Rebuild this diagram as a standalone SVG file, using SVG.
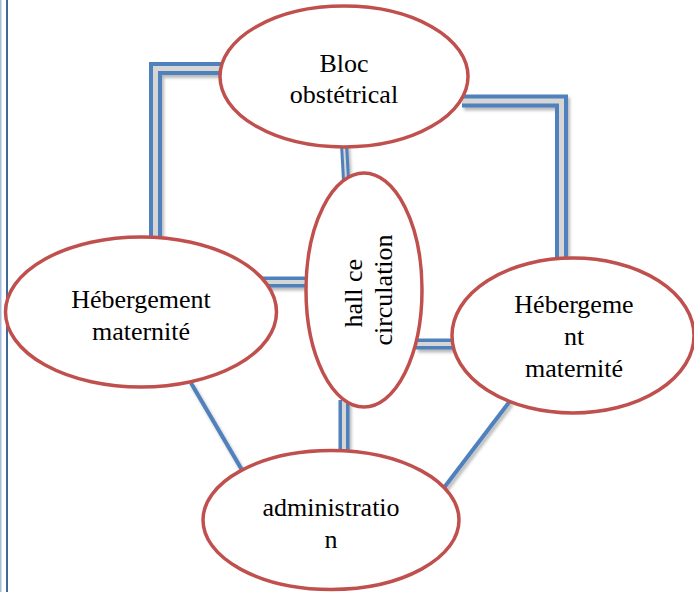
<svg xmlns="http://www.w3.org/2000/svg" width="694" height="592" viewBox="0 0 694 592">
  <defs>
    <filter id="shadow" x="-20%" y="-20%" width="140%" height="140%">
      <feDropShadow dx="2" dy="3" stdDeviation="1.8" flood-color="#808080" flood-opacity="0.55"/>
    </filter>
  </defs>
  <style>
    .node { fill: #FFFFFF; stroke: #C0504D; stroke-width: 3.5; }
    .label { font-size: 26px; fill: #000000; text-anchor: middle; }
    .dbl-outer { fill: none; stroke: #4F81BD; stroke-width: 13; stroke-linejoin: miter; }
    .dbl-inner { fill: none; stroke: #D6D6D6; stroke-width: 5; stroke-linejoin: miter; }
    .mid-outer { fill: none; stroke: #4F81BD; stroke-width: 11; }
    .mid-inner { fill: none; stroke: #D6D6D6; stroke-width: 4; }
    .thin-outer { fill: none; stroke: #4F81BD; stroke-width: 8; }
    .thin-inner { fill: none; stroke: #D6D6D6; stroke-width: 2; }
    .single { fill: none; stroke: #4F81BD; stroke-width: 4; }
  </style>

  <!-- page border lines on the left -->
  <line x1="0.75" y1="0" x2="0.75" y2="592" stroke="#A6BEDC" stroke-width="1.5"/>
  <line x1="7" y1="0" x2="7" y2="592" stroke="#41689C" stroke-width="2"/>

  <!-- connectors -->
  <g id="connectors">
    <g filter="url(#shadow)">
      <path class="dbl-outer" d="M 226 68.5 H 155.5 V 244"/>
      <path class="dbl-inner" d="M 226 68.5 H 155.5 V 244"/>
      <path class="dbl-outer" d="M 462 101 H 561.5 V 264"/>
      <path class="dbl-inner" d="M 462 101 H 561.5 V 264"/>
      <path class="mid-outer" d="M 262 282 H 312"/>
      <path class="mid-inner" d="M 262 282 H 312"/>
      <path class="mid-outer" d="M 416 344 H 458"/>
      <path class="mid-inner" d="M 416 344 H 458"/>
      <path class="mid-outer" d="M 344 400 V 456"/>
      <path class="mid-inner" d="M 344 400 V 456"/>
      <path class="thin-outer" d="M 344 144 L 346 180"/>
      <path class="thin-inner" d="M 344 144 L 346 180"/>
      <path class="single" d="M 191 383 L 242 470"/>
      <path class="single" d="M 510 401 L 443 489"/>
    </g>
  </g>

  <!-- nodes -->
  <g id="nodes" font-family="Liberation Serif, DejaVu Serif, serif">
    <g id="bloc-obstetrical">
      <ellipse class="node" cx="344" cy="76.5" rx="124" ry="70.5"/>
      <text class="label" x="344" y="72">Bloc</text>
      <text class="label" x="344" y="103">obstétrical</text>
    </g>

    <g id="hebergement-gauche">
      <ellipse class="node" cx="141" cy="312" rx="135.5" ry="75"/>
      <text class="label" x="141" y="308">Hébergement</text>
      <text class="label" x="141" y="340">maternité</text>
    </g>

    <g id="hall-circulation">
      <ellipse class="node" cx="364" cy="290" rx="58" ry="117"/>
      <text class="label" transform="translate(362,290) rotate(-90)">
        <tspan x="0" y="0">hall ce</tspan>
        <tspan x="0" y="30">circulation</tspan>
      </text>
    </g>

    <g id="hebergement-droite">
      <ellipse class="node" cx="573" cy="335.5" rx="121" ry="77.5"/>
      <text class="label" x="574" y="313">Hébergeme</text>
      <text class="label" x="574" y="345">nt</text>
      <text class="label" x="574" y="377">maternité</text>
    </g>

    <g id="administration">
      <ellipse class="node" cx="331" cy="520" rx="128" ry="69.5"/>
      <text class="label" x="331" y="516">administratio</text>
      <text class="label" x="331" y="548">n</text>
    </g>
  </g>
</svg>
